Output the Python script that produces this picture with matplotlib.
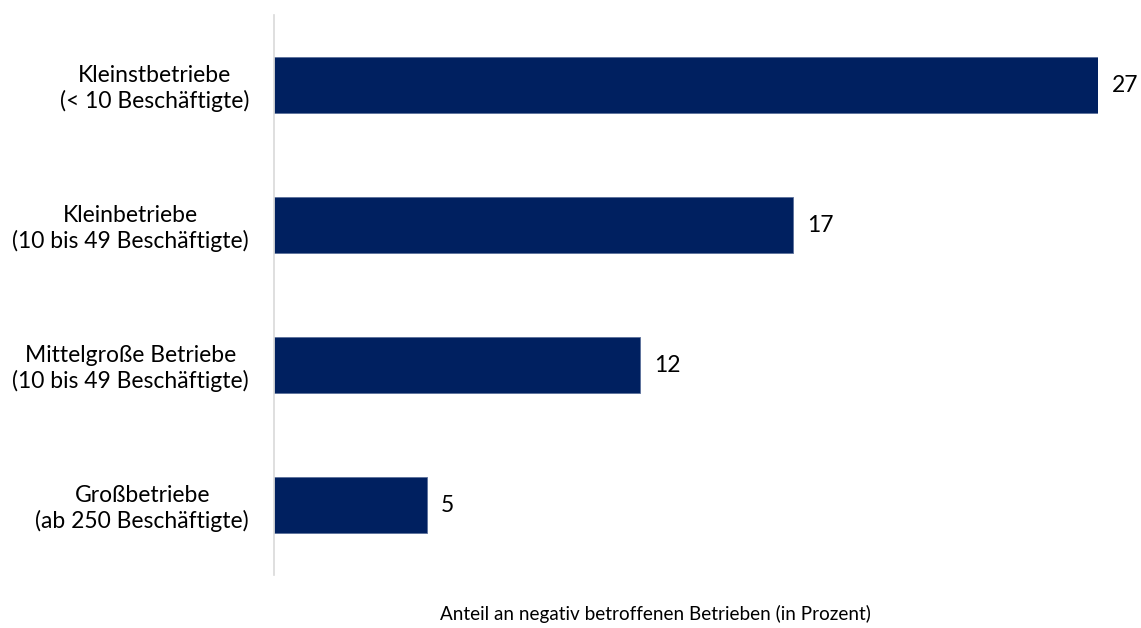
import matplotlib
matplotlib.use("Agg")
from matplotlib import pyplot as plt

categories = [
    "Kleinstbetriebe\n(< 10 Beschäftigte)",
    "Kleinbetriebe\n(10 bis 49 Beschäftigte)",
    "Mittelgroße Betriebe\n(10 bis 49 Beschäftigte)",
    "Großbetriebe\n(ab 250 Beschäftigte)",
]
values = [27, 17, 12, 5]
xlabel = "Anteil an negativ betroffenen Betrieben (in Prozent)"

bar_color = "#002060"
font = ["Lato", "DejaVu Sans"]

fig = plt.figure(figsize=(11.41, 6.28), dpi=100)
ax = fig.add_axes([274 / 1141, 53 / 628, 824 / 1141, 560 / 628])

ypos = list(range(len(categories)))
bars = ax.barh(ypos, values, height=0.4, color=bar_color,
               edgecolor="#5a6f9a", linewidth=0.6)

ax.set_xlim(0, 27)
ax.set_ylim(3.5, -0.5)
ax.set_yticks(ypos)
ax.set_yticklabels(categories, fontsize=16.5, family=font, color="#000000",
                   linespacing=1.2)
for lab in ax.get_yticklabels():
    lab.set_multialignment("center")
ax.tick_params(axis="y", length=0, pad=18)
ax.set_xticks([])

for side in ["top", "right", "bottom"]:
    ax.spines[side].set_visible(False)
ax.spines["left"].set_color("#d9d9d9")
ax.spines["left"].set_linewidth(1.2)

# value labels next to each bar
for b, v in zip(bars, values):
    ax.annotate(str(v), (b.get_width(), b.get_y() + b.get_height() / 2),
                xytext=(10, 0), textcoords="offset points",
                ha="left", va="center", fontsize=16.5, family=font,
                annotation_clip=False)

fig.text(655 / 1141, 1 - 605 / 628, xlabel, ha="center", va="top",
         fontsize=13.6, family=font)

fig.savefig("out.png", dpi=100)
